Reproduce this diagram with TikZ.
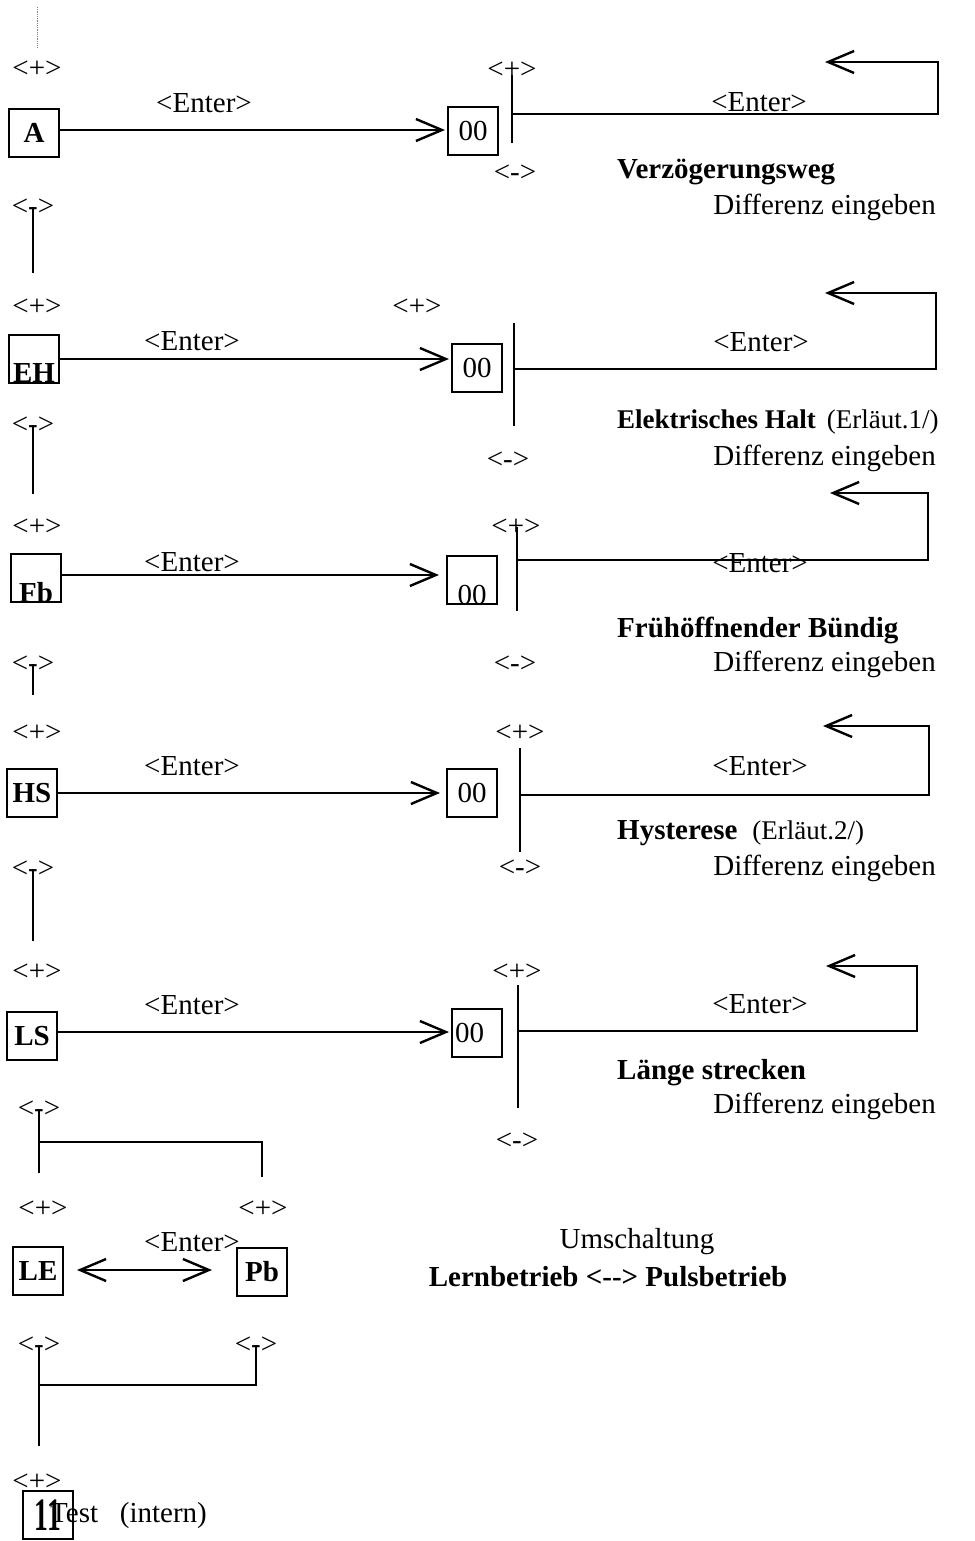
\documentclass[tikz,border=0pt]{standalone}
\usepackage{fontspec}
\setmainfont{Liberation Serif}
\usetikzlibrary{arrows.meta,positioning}
\tikzset{
  >={Straight Barb[length=26pt,width=22pt]},
  key/.style={draw, line width=2pt, minimum width=50pt, minimum height=48pt, inner sep=0pt, execute at begin node=\bfseries},
  val/.style={draw, line width=2pt, minimum width=50pt, minimum height=48pt, inner sep=0pt},
  txt/.style={inner sep=0pt},
  wire/.style={line width=2.4pt},
}
\begin{document}
\begin{tikzpicture}[x=1pt, y=-1pt, font=\fontsize{29}{34}\selectfont]
\useasboundingbox (0,0) rectangle (974,1541);

% --- A: Verzoegerungsweg
\draw[densely dotted, gray, line width=0.8pt] (37,7) -- (37,48);
\node[txt] (pA) at (37,69) {<+>};
\node[key] (A) at (34,133) {A};
\node[txt] (eA) at (204,103) {<Enter>};
\node[val] (vA) at (473,131) {00};
\draw[wire,->,shorten >=2pt] ([yshift=3pt]A.east) -- ([yshift=3pt]A.east -| vA.west);
\node[txt] (pAr) at (512,70) {<+>};
\coordinate (tA) at (512,75);
\coordinate (bA) at (512,143);
\draw[wire] (tA) -- (bA);
\coordinate (sA) at (512,114);
\coordinate (cA) at (938,62);
\coordinate (hA) at (825,62);
\draw[wire,->] (sA) -| (cA) -- (hA);
\node[txt] (eAr) at (759,102) {<Enter>};
\node[txt] (mAr) at (515,173) {<->};
\node[txt, anchor=west] (nA) at (617,172) {\bfseries Verzögerungsweg};
\node[txt, anchor=east] (dA) at (936,207) {Differenz eingeben};
\node[txt] (mA) at (33,207) {<->};
\coordinate (lA) at (33,273);
\draw[wire] (mA.center) -- (lA);

% --- EH: Elektrisches Halt
\node[txt] (pEH) at (37,307) {<+>};
\node[key, text height=46pt, text depth=0pt] (EH) at (34,359) {EH};
\node[txt] (eEH) at (192,341) {<Enter>};
\node[txt] (pEHr) at (417,307) {<+>};
\node[val] (vEH) at (477,368) {00};
\draw[wire,->,shorten >=2pt] (EH.east) -- (EH.east -| vEH.west);
\coordinate (tEH) at (514,323);
\coordinate (bEH) at (514,426);
\draw[wire] (tEH) -- (bEH);
\coordinate (sEH) at (514,369);
\coordinate (cEH) at (936,293);
\coordinate (hEH) at (825,293);
\draw[wire,->] (sEH) -| (cEH) -- (hEH);
\node[txt] (eEHr) at (761,342) {<Enter>};
\node[txt, anchor=west] (nEH) at (617,422) {\fontsize{27}{32}\selectfont\textbf{Elektrisches Halt}\hspace{11pt}(Erläut.1/)};
\node[txt] (mEHr) at (508,460) {<->};
\node[txt, anchor=east] (dEH) at (936,458) {Differenz eingeben};
\node[txt] (mEH) at (33,425) {<->};
\coordinate (lEH) at (33,494);
\draw[wire] (mEH.center) -- (lEH);

% --- Fb: Fruehoeffnender Buendig
\node[txt] (pFb) at (37,527) {<+>};
\node[key, text height=48pt, text depth=0pt] (Fb) at (36,578) {Fb};
\node[txt] (eFb) at (192,562) {<Enter>};
\node[val, text height=48pt, text depth=0pt] (vFb) at (472,580) {00};
\draw[wire,->,shorten >=7pt] ([yshift=3pt]Fb.east) -- ([yshift=3pt]Fb.east -| vFb.west);
\node[txt] (pFbr) at (516,527) {<+>};
\coordinate (tFb) at (517,527);
\coordinate (bFb) at (517,611);
\draw[wire] (tFb) -- (bFb);
\coordinate (sFb) at (517,560);
\coordinate (cFb) at (928,493);
\coordinate (hFb) at (830,493);
\draw[wire,->] (sFb) -| (cFb) -- (hFb);
\node[txt] (eFbr) at (760,563) {<Enter>};
\node[txt, anchor=west] (nFb) at (617,630) {\bfseries Frühöffnender Bündig};
\node[txt] (mFbr) at (515,664) {<->};
\node[txt, anchor=east] (dFb) at (936,664) {Differenz eingeben};
\node[txt] (mFb) at (33,664) {<->};
\coordinate (lFb) at (33,695);
\draw[wire] (mFb.center) -- (lFb);

% --- HS: Hysterese
\node[txt] (pHS) at (37,733) {<+>};
\node[key] (HS) at (32,793) {HS};
\node[txt] (eHS) at (192,766) {<Enter>};
\node[val] (vHS) at (472,793) {00};
\draw[wire,->,shorten >=6pt] (HS.east) -- (HS.east -| vHS.west);
\node[txt] (pHSr) at (520,733) {<+>};
\coordinate (tHS) at (520,748);
\coordinate (bHS) at (520,852);
\draw[wire] (tHS) -- (bHS);
\coordinate (sHS) at (520,795);
\coordinate (cHS) at (929,726);
\coordinate (hHS) at (823,726);
\draw[wire,->] (sHS) -| (cHS) -- (hHS);
\node[txt] (eHSr) at (760,766) {<Enter>};
\node[txt, anchor=west] (nHS) at (617,833) {\textbf{Hysterese}\hspace{15pt}{\fontsize{27}{32}\selectfont(Erläut.2/)}};
\node[txt] (mHSr) at (520,868) {<->};
\node[txt, anchor=east] (dHS) at (936,868) {Differenz eingeben};
\node[txt] (mHS) at (33,869) {<->};
\coordinate (lHS) at (33,941);
\draw[wire] (mHS.center) -- (lHS);

% --- LS: Laenge strecken
\node[txt] (pLS) at (37,972) {<+>};
\node[key] (LS) at (32,1036) {LS};
\node[txt] (eLS) at (192,1005) {<Enter>};
\node[val, text width=44pt, align=left] (vLS) at (477,1033) {00};
\draw[wire,->,shorten >=2pt] ([yshift=4pt]LS.east) -- ([yshift=4pt]LS.east -| vLS.west);
\node[txt] (pLSr) at (517,972) {<+>};
\coordinate (tLS) at (518,985);
\coordinate (bLS) at (518,1108);
\draw[wire] (tLS) -- (bLS);
\coordinate (sLS) at (518,1031);
\coordinate (cLS) at (917,966);
\coordinate (hLS) at (826,966);
\draw[wire,->] (sLS) -| (cLS) -- (hLS);
\node[txt] (eLSr) at (760,1004) {<Enter>};
\node[txt, anchor=west] (nLS) at (617,1073) {\bfseries Länge strecken};
\node[txt, anchor=east] (dLS) at (936,1106) {Differenz eingeben};
\node[txt] (mLSr) at (517,1141) {<->};
\node[txt] (mLS) at (39,1109) {<->};
\coordinate (lLS) at (39,1173);
\draw[wire] (mLS.center) -- (lLS);
\coordinate (forkA) at (39,1142);
\coordinate (dropA) at (262,1177);
\draw[wire] (forkA) -| (dropA);

% --- LE / Pb: Umschaltung
\node[txt] (pLE) at (43,1209) {<+>};
\node[txt] (pPb) at (263,1209) {<+>};
\node[key] (LE) at (38,1271) {LE};
\node[key] (Pb) at (262,1272) {Pb};
\node[txt] (eLE) at (192,1242) {<Enter>};
\draw[wire,<->,shorten <=13pt,shorten >=24pt] ([yshift=1pt]LE.east) -- ([yshift=1pt]LE.east -| Pb.west);
\node[txt] (uLE) at (637,1242) {Umschaltung};
\node[txt] (wLE) at (608,1277) {\bfseries Lernbetrieb <-{}-> Pulsbetrieb};
\node[txt] (mLE) at (39,1345) {<->};
\node[txt] (mPb) at (256,1345) {<->};
\coordinate (lLE) at (39,1446);
\draw[wire] (mLE.center) -- (lLE);
\coordinate (forkB) at (39,1385);
\draw[wire] (mPb.center) |- (forkB);

% --- Test
\node[txt] (pT) at (37,1482) {<+>};
\node[txt, anchor=west] (nT) at (50,1516) {Test\ \ \ (intern)};
\node[key] (T) at (48,1515) {\scalebox{0.95}[1.6]{11}};
\end{tikzpicture}
\end{document}
